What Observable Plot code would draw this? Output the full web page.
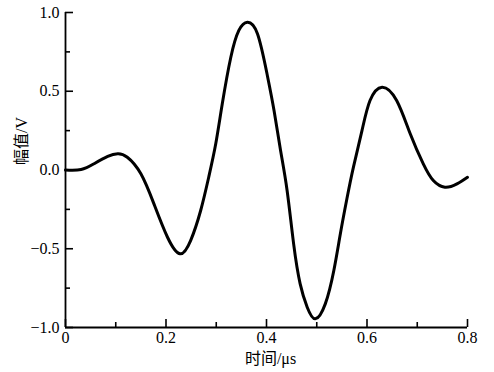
<!DOCTYPE html>
<html>
<head>
<meta charset="utf-8">
<script src="https://cdn.jsdelivr.net/npm/d3@7"></script>
<script src="https://cdn.jsdelivr.net/npm/@observablehq/plot@0.6"></script>
<style>
  html, body { margin: 0; padding: 0; background: #fff; }
  svg { display: block; }
</style>
</head>
<body>
<div id="chart"></div>
<script>
const time = [0, 0.031, 0.057, 0.084, 0.104, 0.123, 0.150, 0.176, 0.203, 0.228, 0.249, 0.269, 0.285, 0.299, 0.312, 0.329, 0.345, 0.362, 0.382, 0.401, 0.415, 0.428, 0.441, 0.454, 0.467, 0.481, 0.497, 0.517, 0.534, 0.547, 0.56, 0.573, 0.59, 0.606, 0.63, 0.659, 0.686, 0.712, 0.732, 0.755, 0.779, 0.8];
const amplitude = [0, 0.003, 0.04, 0.086, 0.103, 0.081, -0.024, -0.215, -0.427, -0.532, -0.448, -0.257, -0.046, 0.166, 0.42, 0.716, 0.886, 0.938, 0.865, 0.611, 0.378, 0.124, -0.13, -0.469, -0.723, -0.871, -0.945, -0.85, -0.638, -0.405, -0.183, 0.018, 0.25, 0.441, 0.526, 0.441, 0.23, 0.039, -0.067, -0.109, -0.088, -0.046];
const xMajor = [0, 0.2, 0.4, 0.6, 0.8];
const xMinor = [0.1, 0.3, 0.5, 0.7];
const yMajor = [-1.0, -0.5, 0.0, 0.5, 1.0];
const yMinor = [-0.75, -0.25, 0.25, 0.75];
const xTitle = "时间/μs";
const yTitle = "幅值/V";

const data = time.map((t, i) => ({t, v: amplitude[i]}));
const font = "'Liberation Serif', 'DejaVu Serif', 'Noto Sans CJK SC', serif";

const chart = Plot.plot({
  width: 494,
  height: 372,
  marginLeft: 65,
  marginRight: 27,
  marginTop: 12,
  marginBottom: 45,
  style: {fontFamily: font, fontSize: "16px", color: "#000", background: "#fff"},
  x: {domain: [0, 0.8]},
  y: {domain: [-1, 1]},
  marks: [
    Plot.axisX(xMajor, {tickSize: 0, tickPadding: 4, tickFormat: d => d === 0 ? "0" : d3.format(".1f")(d), fontSize: 16, fontFamily: font, label: null}),
    Plot.axisX(xMajor, {tickSize: -8, text: null, strokeWidth: 1.6, label: null}),
    Plot.axisX(xMinor, {tickSize: -5, text: null, strokeWidth: 1.6, label: null}),
    Plot.axisY(yMajor, {tickSize: 0, tickPadding: 6, tickFormat: d => d3.format(".1f")(d).replace("-", "\u2212"), fontSize: 16, fontFamily: font, label: null}),
    Plot.axisY(yMajor, {tickSize: -8, text: null, strokeWidth: 1.6, label: null}),
    Plot.axisY(yMinor, {tickSize: -5, text: null, strokeWidth: 1.6, label: null}),
    Plot.ruleX([0], {stroke: "#000", strokeWidth: 1.8}),
    Plot.ruleY([-1], {stroke: "#000", strokeWidth: 1.8}),
    Plot.line(data, {x: "t", y: "v", stroke: "#000", strokeWidth: 3, curve: "natural"}),
    Plot.text([xTitle], {frameAnchor: "bottom", dy: 36, dx: 4, fontSize: 16, fontFamily: font, fill: "#000"}),
    Plot.text([yTitle], {frameAnchor: "left", rotate: -90, dx: -44, dy: -5, fontSize: 16, fontFamily: font, fill: "#000"})
  ]
});
document.getElementById("chart").appendChild(chart);
</script>
</body>
</html>
